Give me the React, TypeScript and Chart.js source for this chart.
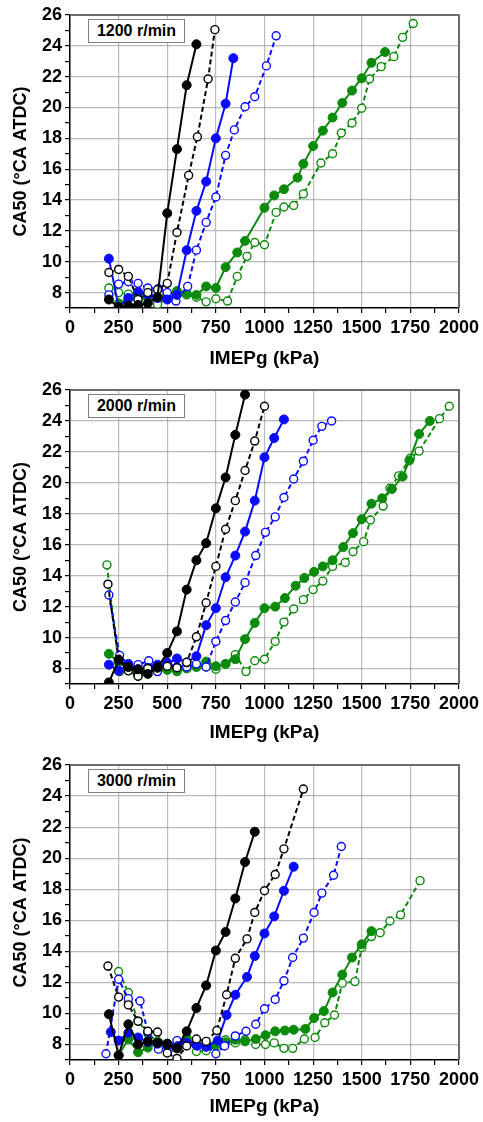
import React, { useEffect, useRef } from 'react';
import { Chart, registerables } from 'chart.js';

Chart.register(...registerables);

// ---------- Axis ticks ----------
const xTickValues = [0, 250, 500, 750, 1000, 1250, 1500, 1750, 2000];
const yTickValues = [8, 10, 12, 14, 16, 18, 20, 22, 24, 26];
const panelLabels = ['1200 r/min', '2000 r/min', '3000 r/min'];

// ---------- 1200 r/min ----------
const p1BlackSolidX = [200, 250, 300, 350, 400, 450, 500, 550, 600, 650];
const p1BlackSolidY = [7.55, 7.05, 7.15, 7.2, 7.3, 7.7, 13.15, 17.3, 21.45, 24.1];
const p1BlackDashX = [200, 250, 300, 350, 400, 450, 500, 550, 610, 655, 710, 745];
const p1BlackDashY = [9.3, 9.5, 9.05, 7.55, 8.0, 8.2, 8.6, 11.9, 15.6, 18.1, 21.85, 25.05];
const p1BlueSolidX = [200, 250, 300, 350, 400, 450, 500, 550, 600, 650, 700, 750, 800, 840];
const p1BlueSolidY = [10.2, 7.05, 7.65, 8.05, 7.85, 7.65, 7.55, 7.85, 10.75, 13.3, 15.2, 18.0, 20.25, 23.2];
const p1BlueDashX = [200, 250, 300, 350, 400, 455, 500, 545, 605, 650, 700, 750, 800, 845, 900, 950, 1010, 1060];
const p1BlueDashY = [7.85, 8.55, 8.7, 8.6, 8.3, 8.25, 8.0, 7.45, 8.4, 10.75, 12.55, 14.2, 16.9, 18.55, 20.05, 20.7, 22.7, 24.65];
const p1GreenSolidX = [250, 300, 350, 400, 450, 500, 550, 600, 650, 700, 750, 800, 860, 900, 1000, 1050, 1100, 1170, 1200, 1250, 1300, 1350, 1400, 1450, 1500, 1550, 1620];
const p1GreenSolidY = [7.3, 7.6, 7.9, 7.75, 7.7, 7.85, 8.1, 7.95, 7.85, 8.4, 8.3, 9.65, 10.6, 11.35, 13.5, 14.3, 14.7, 15.45, 16.35, 17.5, 18.5, 19.35, 20.3, 21.1, 21.9, 22.9, 23.6];
const p1GreenDashX = [200, 250, 300, 350, 400, 450, 500, 600, 650, 700, 750, 810, 860, 910, 950, 1000, 1060, 1100, 1150, 1200, 1290, 1350, 1395, 1450, 1500, 1540, 1600, 1665, 1710, 1765];
const p1GreenDashY = [8.3, 8.0, 7.9, 7.55, 7.65, 7.25, 7.6, 7.85, 7.7, 7.4, 7.6, 7.45, 9.05, 10.35, 11.25, 11.1, 13.2, 13.55, 13.65, 14.4, 16.4, 17.0, 18.35, 19.0, 19.95, 21.85, 22.65, 23.3, 24.55, 25.45];

// ---------- 2000 r/min ----------
const p2BlackSolidX = [200, 250, 300, 350, 400, 450, 500, 550, 600, 650, 700, 750, 800, 850, 900];
const p2BlackSolidY = [7.1, 8.55, 8.1, 7.95, 7.65, 8.05, 9.0, 10.4, 13.1, 15.0, 16.1, 18.35, 20.35, 23.1, 25.7];
const p2BlackDashX = [195, 250, 300, 350, 400, 450, 500, 550, 600, 650, 700, 750, 800, 850, 900, 950, 1000];
const p2BlackDashY = [13.45, 8.6, 7.85, 7.5, 8.0, 8.1, 8.15, 8.05, 8.4, 10.05, 12.25, 14.6, 17.0, 18.85, 20.8, 22.7, 24.95];
const p2BlueSolidX = [200, 250, 300, 350, 400, 450, 500, 550, 600, 650, 700, 750, 800, 850, 900, 950, 1000, 1050, 1100];
const p2BlueSolidY = [8.25, 7.85, 8.3, 7.95, 8.05, 8.25, 8.3, 8.65, 8.4, 8.8, 10.8, 11.9, 13.9, 15.3, 16.85, 18.85, 21.65, 22.9, 24.1];
const p2BlueDashX = [200, 255, 300, 350, 405, 450, 500, 550, 600, 650, 700, 750, 800, 850, 900, 955, 1005, 1055, 1100, 1150, 1200, 1250, 1295, 1345];
const p2BlueDashY = [12.75, 8.85, 8.25, 8.25, 8.5, 7.8, 8.4, 8.1, 8.1, 8.3, 8.1, 9.75, 11.1, 12.3, 13.55, 15.3, 16.8, 17.8, 19.05, 20.25, 21.4, 22.75, 23.65, 24.0];
const p2GreenSolidX = [200, 250, 300, 350, 400, 450, 500, 550, 600, 650, 700, 750, 800, 850, 900, 950, 1000, 1055, 1105, 1160, 1205, 1255, 1300, 1350, 1405, 1455, 1500, 1550, 1605, 1655, 1710, 1745, 1795, 1850];
const p2GreenSolidY = [8.95, 8.4, 8.0, 7.6, 7.95, 8.0, 7.95, 7.85, 8.0, 8.1, 8.45, 8.15, 8.3, 8.6, 9.9, 10.95, 11.9, 12.0, 12.55, 13.35, 13.85, 14.25, 14.6, 15.0, 15.85, 16.75, 17.65, 18.65, 19.0, 19.6, 20.4, 21.45, 23.15, 24.0];
const p2GreenDashX = [190, 255, 300, 350, 400, 450, 500, 550, 600, 650, 700, 750, 800, 850, 905, 950, 1000, 1055, 1100, 1150, 1200, 1250, 1300, 1350, 1415, 1455, 1510, 1545, 1610, 1645, 1690, 1750, 1795, 1900, 1950];
const p2GreenDashY = [14.7, 7.8, 7.9, 7.5, 7.9, 7.85, 7.9, 7.8, 8.1, 8.15, 8.1, 7.95, 8.3, 8.9, 7.8, 8.5, 8.6, 9.75, 11.0, 11.85, 12.45, 13.1, 13.65, 14.6, 14.85, 15.55, 16.2, 17.6, 18.5, 19.65, 20.45, 21.6, 22.05, 24.15, 24.95];

// ---------- 3000 r/min ----------
const p3BlackSolidX = [200, 250, 300, 350, 400, 450, 500, 550, 600, 650, 700, 750, 800, 850, 900, 950];
const p3BlackSolidY = [9.95, 7.3, 9.3, 8.0, 8.2, 8.1, 8.05, 7.75, 8.85, 10.35, 11.8, 14.05, 15.25, 17.4, 19.75, 21.7];
const p3BlackDashX = [195, 250, 300, 350, 400, 450, 500, 550, 600, 650, 700, 755, 805, 850, 910, 950, 1000, 1055, 1100, 1200];
const p3BlackDashY = [13.05, 11.05, 10.55, 9.5, 8.85, 8.8, 7.45, 7.1, 7.9, 8.35, 8.2, 8.9, 11.2, 13.55, 14.8, 16.5, 17.9, 18.95, 20.6, 24.45];
const p3BlueSolidX = [210, 250, 300, 350, 400, 450, 505, 555, 600, 650, 700, 760, 805, 850, 910, 950, 1000, 1050, 1100, 1150];
const p3BlueSolidY = [8.8, 8.25, 8.75, 8.45, 8.15, 8.05, 7.95, 7.9, 8.1, 7.95, 7.85, 8.25, 9.9, 11.2, 12.35, 13.7, 15.15, 16.25, 17.9, 19.45];
const p3BlueDashX = [185, 250, 300, 360, 400, 455, 505, 550, 600, 655, 705, 750, 795, 850, 905, 955, 1000, 1055, 1100, 1145, 1200, 1255, 1295, 1355, 1395];
const p3BlueDashY = [7.4, 12.2, 10.95, 10.8, 8.8, 7.7, 7.65, 8.25, 8.1, 7.9, 7.9, 7.4, 7.9, 8.55, 8.85, 9.3, 10.3, 10.9, 12.1, 13.6, 14.85, 16.5, 17.75, 18.9, 20.75];
const p3GreenSolidX = [250, 300, 350, 400, 450, 500, 555, 600, 650, 700, 750, 800, 850, 900, 955, 1005, 1055, 1105, 1150, 1210, 1255, 1305, 1350, 1400, 1450, 1500, 1550];
const p3GreenSolidY = [7.3, 8.35, 7.5, 7.8, 8.15, 8.05, 7.8, 8.4, 8.1, 8.0, 8.0, 8.15, 8.3, 8.2, 8.35, 8.6, 8.85, 8.9, 8.95, 9.0, 9.7, 10.15, 11.35, 12.5, 13.6, 14.45, 15.3];
const p3GreenDashX = [250, 300, 350, 400, 450, 500, 550, 600, 650, 700, 750, 800, 850, 900, 955, 1005, 1050, 1100, 1145, 1205, 1260, 1310, 1360, 1400, 1465, 1500, 1550, 1595, 1645, 1700, 1800];
const p3GreenDashY = [12.7, 11.35, 9.5, 8.7, 8.2, 7.9, 8.0, 8.45, 7.55, 7.6, 7.9, 8.3, 8.1, 8.3, 8.0, 8.0, 8.1, 7.75, 7.75, 8.35, 8.45, 9.4, 9.9, 11.95, 12.05, 14.25, 14.95, 15.2, 15.95, 16.35, 18.55];

const BLACK = '#000000';
const BLUE = '#0a0aff';
const GREEN = '#0b8a0b';
const FONT = '"Liberation Sans", Arial, sans-serif';

type Series = { x: number[]; y: number[]; color: string; filled: boolean };

const panels: { label: string; top: number; bottom: number; series: Series[] }[] = [
  {
    label: panelLabels[0], top: 15, bottom: 308,
    series: [
      { x: p1BlackSolidX, y: p1BlackSolidY, color: BLACK, filled: true },
      { x: p1BlackDashX, y: p1BlackDashY, color: BLACK, filled: false },
      { x: p1BlueSolidX, y: p1BlueSolidY, color: BLUE, filled: true },
      { x: p1BlueDashX, y: p1BlueDashY, color: BLUE, filled: false },
      { x: p1GreenSolidX, y: p1GreenSolidY, color: GREEN, filled: true },
      { x: p1GreenDashX, y: p1GreenDashY, color: GREEN, filled: false },
    ],
  },
  {
    label: panelLabels[1], top: 16, bottom: 310,
    series: [
      { x: p2BlackSolidX, y: p2BlackSolidY, color: BLACK, filled: true },
      { x: p2BlackDashX, y: p2BlackDashY, color: BLACK, filled: false },
      { x: p2BlueSolidX, y: p2BlueSolidY, color: BLUE, filled: true },
      { x: p2BlueDashX, y: p2BlueDashY, color: BLUE, filled: false },
      { x: p2GreenSolidX, y: p2GreenSolidY, color: GREEN, filled: true },
      { x: p2GreenDashX, y: p2GreenDashY, color: GREEN, filled: false },
    ],
  },
  {
    label: panelLabels[2], top: 17, bottom: 312,
    series: [
      { x: p3BlackSolidX, y: p3BlackSolidY, color: BLACK, filled: true },
      { x: p3BlackDashX, y: p3BlackDashY, color: BLACK, filled: false },
      { x: p3BlueSolidX, y: p3BlueSolidY, color: BLUE, filled: true },
      { x: p3BlueDashX, y: p3BlueDashY, color: BLUE, filled: false },
      { x: p3GreenSolidX, y: p3GreenSolidY, color: GREEN, filled: true },
      { x: p3GreenDashX, y: p3GreenDashY, color: GREEN, filled: false },
    ],
  },
];

const W = 483;
const H = 374;
const LEFT = 70;
const RIGHT_PAD = 23;

const frame = {
  id: 'frameBorder',
  beforeDatasetsDraw(chart: any) {
    const { ctx, chartArea } = chart;
    ctx.save();
    ctx.strokeStyle = '#6b6b6b';
    ctx.lineWidth = 2;
    ctx.beginPath();
    ctx.moveTo(chartArea.left, chartArea.top);
    ctx.lineTo(chartArea.right, chartArea.top);
    ctx.lineTo(chartArea.right, chartArea.bottom);
    ctx.stroke();
    ctx.restore();
  },
};

function Panel({ label, top, bottom, series }: { label: string; top: number; bottom: number; series: Series[] }) {
  const ref = useRef<HTMLCanvasElement | null>(null);
  useEffect(() => {
    if (!ref.current) return;
    const datasets = series.map((s) => ({
      data: s.x.map((v, i) => ({ x: v, y: s.y[i] })),
      showLine: true,
      borderColor: s.color,
      borderWidth: 2,
      borderDash: s.filled ? [] : [5, 3],
      pointRadius: s.filled ? 4.5 : 4,
      pointBorderWidth: s.filled ? 1 : 1.4,
      pointBackgroundColor: s.filled ? s.color : '#ffffff',
      pointBorderColor: s.color,
      tension: 0,
      fill: false,
    }));
    const gridColor = 'rgba(150,150,150,0.65)';
    const chart = new Chart(ref.current, {
      type: 'scatter',
      data: { datasets },
      plugins: [frame],
      options: {
        animation: false,
        responsive: false,
        maintainAspectRatio: false,
        layout: { padding: { top, right: RIGHT_PAD, bottom: 0, left: 0 } },
        plugins: { legend: { display: false }, tooltip: { enabled: false } },
        scales: {
          x: {
            type: 'linear',
            min: 0,
            max: 2000,
            afterFit: (s: any) => { s.height = H - bottom; },
            ticks: {
              stepSize: 125,
              autoSkip: false,
              maxRotation: 0,
              minRotation: 0,
              padding: 4,
              color: '#000',
              font: { family: FONT, size: 18, weight: 'bold' },
              callback: (v: any) => (xTickValues.includes(Number(v)) ? String(v) : ''),
            },
            grid: {
              color: (c: any) => (c.tick && xTickValues.includes(c.tick.value) ? gridColor : 'rgba(0,0,0,0)'),
              lineWidth: 1.2,
              tickColor: '#000',
              tickLength: 5,
              tickWidth: 1.2,
            },
            border: { color: '#000', width: 1.5 },
            title: {
              display: true,
              text: 'IMEPg (kPa)',
              color: '#000',
              font: { family: FONT, size: 19, weight: 'bold' },
              padding: { top: 0, bottom: 4 },
            },
          },
          y: {
            type: 'linear',
            min: 7,
            max: 26,
            afterFit: (s: any) => { s.width = LEFT; },
            ticks: {
              stepSize: 1,
              autoSkip: false,
              padding: 3,
              color: '#000',
              font: { family: FONT, size: 18, weight: 'bold' },
              callback: (v: any) => (yTickValues.includes(Number(v)) ? String(v) : ''),
            },
            grid: {
              color: (c: any) => (c.tick && yTickValues.includes(c.tick.value) ? gridColor : 'rgba(0,0,0,0)'),
              lineWidth: 1.2,
              tickColor: '#000',
              tickLength: 5,
              tickWidth: 1.2,
            },
            border: { color: '#000', width: 1.5 },
            title: {
              display: true,
              text: 'CA50 (°CA ATDC)',
              color: '#000',
              font: { family: FONT, size: 18, weight: 'bold' },
              padding: { top: 10, bottom: 0 },
            },
          },
        },
      } as any,
    });
    return () => chart.destroy();
  }, []);

  return (
    <div style={{ position: 'relative', width: W, height: H }}>
      <canvas ref={ref} width={W} height={H} style={{ display: 'block', width: W, height: H }} />
      <div
        style={{
          position: 'absolute',
          left: 88,
          top: top + 4,
          width: 97,
          height: 24,
          boxSizing: 'border-box',
          border: '1.5px solid #808080',
          background: '#fff',
          fontFamily: FONT,
          fontWeight: 'bold',
          fontSize: 16,
          lineHeight: '21px',
          textAlign: 'center',
          color: '#000',
        }}
      >
        {label}
      </div>
    </div>
  );
}

export default function App() {
  return (
    <div style={{ position: 'absolute', left: 0, top: 0, width: W, height: 1122, background: '#fff' }}>
      {panels.map((p) => (
        <Panel key={p.label} label={p.label} top={p.top} bottom={p.bottom} series={p.series} />
      ))}
    </div>
  );
}
